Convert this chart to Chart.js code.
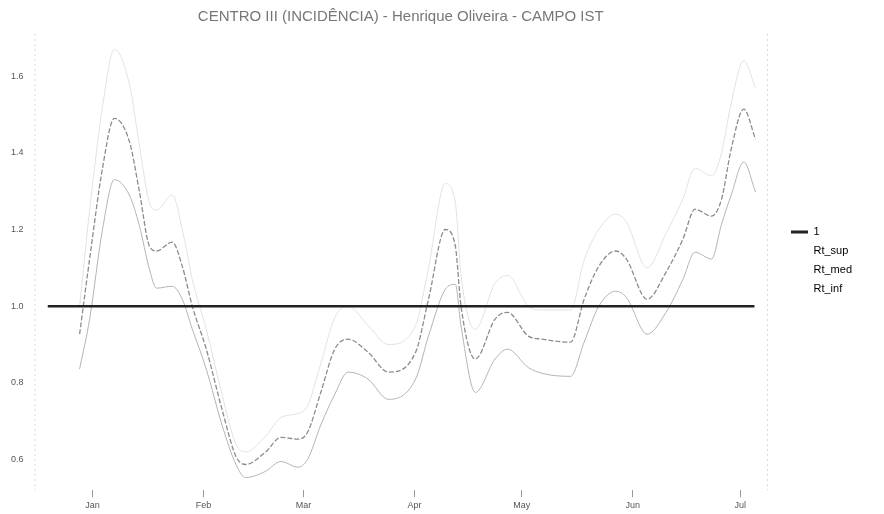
<!DOCTYPE html>
<html>
<head>
<meta charset="utf-8">
<script src="https://cdn.jsdelivr.net/npm/chart.js@4/dist/chart.umd.min.js"></script>
<style>
  html, body { margin: 0; padding: 0; background: #fff; }
  #wrap { width: 884px; height: 514px; }
</style>
</head>
<body>
<div id="wrap"><canvas id="rtChart"></canvas></div>
<script>
const titleText = "CENTRO III (INCIDÊNCIA) - Henrique Oliveira - CAMPO IST";
const monthLabels = ["Jan", "Feb", "Mar", "Apr", "May", "Jun", "Jul"];
const monthDays = [0, 31, 59, 90, 120, 151, 181];
const yTicks = [0.6, 0.8, 1.0, 1.2, 1.4, 1.6];

// day 0 = 1 Jan
const days = [-3.6, -0.8, 2.8, 6.1, 10.3, 13.1, 15.9, 17.9, 22.3, 25.1,
  27.9, 31.8, 36.2, 40.1, 42.8, 48.3, 52.7, 57.4, 60.1, 63.8,
  67.7, 71.4, 77, 82.7, 90.3, 93.9, 98.6, 101.4, 103, 107,
  112.5, 116, 121.8, 125.6, 133.6, 137.4, 141.5, 146.2, 149.2, 155,
  160.3, 165, 168.4, 173, 175.8, 178.5, 182, 185.3];
const rtSup = [1.0, 1.25, 1.52, 1.67, 1.58, 1.42, 1.27, 1.25, 1.29, 1.2,
  1.07, 0.94, 0.77, 0.64, 0.62, 0.66, 0.71, 0.72, 0.74, 0.85,
  0.97, 1.0, 0.95, 0.9, 0.95, 1.1, 1.32, 1.27, 1.08, 0.94,
  1.06, 1.08, 1.0, 0.99, 0.99, 1.12, 1.2, 1.24, 1.22, 1.1,
  1.19, 1.28, 1.36, 1.34, 1.4, 1.53, 1.64, 1.57];
const rtMed = [0.927, 1.123, 1.36, 1.49, 1.43, 1.30, 1.157, 1.144, 1.167, 1.104,
  1.0, 0.888, 0.731, 0.608, 0.587, 0.619, 0.658, 0.653, 0.671, 0.775,
  0.888, 0.914, 0.88, 0.828, 0.88, 1.018, 1.20, 1.157, 1.0, 0.862,
  0.966, 0.984, 0.922, 0.914, 0.906, 1.018, 1.104, 1.144, 1.123, 1.018,
  1.089, 1.175, 1.253, 1.235, 1.279, 1.41, 1.514, 1.436];
const rtInf = [0.836, 0.966, 1.20, 1.33, 1.29, 1.21, 1.097, 1.047, 1.052, 1.018,
  0.94, 0.836, 0.69, 0.587, 0.553, 0.569, 0.595, 0.58, 0.60, 0.69,
  0.77, 0.828, 0.81, 0.757, 0.81, 0.922, 1.044, 1.057, 0.948, 0.775,
  0.862, 0.888, 0.84, 0.825, 0.817, 0.906, 1.0, 1.039, 1.023, 0.927,
  0.984, 1.07, 1.141, 1.123, 1.214, 1.29, 1.376, 1.298];
const refDays = [-12.5, 185];
const refValues = [1, 1];

function toPoints(xs, ys) {
    return xs.map((x, i) => ({ x: x, y: ys[i] }));
}

// faint frame on both sides of the plot, legend nudged away from it
const framePlugin = {
    id: "frame",
    afterLayout(chart) {
        chart.legend.left += 16;
        chart.legend.right += 16;
    },
    beforeDatasetsDraw(chart) {
        const { ctx, chartArea } = chart;
        ctx.save();
        ctx.strokeStyle = "#dcdcdc";
        ctx.lineWidth = 1;
        ctx.setLineDash([2, 3]);
        ctx.beginPath();
        ctx.moveTo(chartArea.left + 0.5, chartArea.top);
        ctx.lineTo(chartArea.left + 0.5, chartArea.bottom);
        ctx.moveTo(chartArea.right + 0.5, chartArea.top);
        ctx.lineTo(chartArea.right + 0.5, chartArea.bottom);
        ctx.stroke();
        ctx.restore();
    }
};

Chart.defaults.font.family = "'Liberation Sans', Arial, sans-serif";

new Chart(document.getElementById("rtChart"), {
    type: "line",
    data: {
        datasets: [
            { label: "1", data: toPoints(refDays, refValues), borderColor: "#222", borderWidth: 2.5, pointRadius: 0 },
            { label: "Rt_sup", data: toPoints(days, rtSup), borderColor: "#e2e2e2", borderWidth: 1, pointRadius: 0, cubicInterpolationMode: "monotone" },
            { label: "Rt_med", data: toPoints(days, rtMed), borderColor: "#8c8c8c", borderWidth: 1.3, borderDash: [5, 2], pointRadius: 0, cubicInterpolationMode: "monotone" },
            { label: "Rt_inf", data: toPoints(days, rtInf), borderColor: "#b4b4b4", borderWidth: 1, pointRadius: 0, cubicInterpolationMode: "monotone" }
        ]
    },
    options: {
        responsive: true,
        maintainAspectRatio: false,
        animation: false,
        layout: { padding: { top: 7, right: 38, left: 8, bottom: 0 } },
        plugins: {
            title: {
                display: true,
                fullSize: false,
                text: titleText,
                color: "#777",
                font: { size: 15, weight: "normal" },
                padding: { top: 1, bottom: 8 }
            },
            tooltip: { enabled: false },
            legend: {
                position: "right",
                labels: {
                    color: "#222",
                    font: { size: 11 },
                    boxWidth: 17,
                    boxHeight: 3,
                    padding: 8,
                    generateLabels(chart) {
                        return chart.data.datasets.map((ds, i) => ({
                            text: ds.label,
                            fillStyle: i === 0 ? "#222" : "rgba(0,0,0,0)",
                            strokeStyle: "rgba(0,0,0,0)",
                            lineWidth: 0,
                            datasetIndex: i
                        }));
                    }
                }
            }
        },
        scales: {
            x: {
                type: "linear",
                min: -16.2,
                max: 188.5,
                afterBuildTicks(axis) {
                    axis.ticks = monthDays.map(d => ({ value: d }));
                },
                ticks: {
                    color: "#555",
                    font: { size: 9 },
                    autoSkip: false,
                    maxRotation: 0,
                    callback: (v) => monthLabels[monthDays.indexOf(v)]
                },
                grid: { drawOnChartArea: false, drawTicks: true, tickLength: 7, color: "#999" },
                border: { display: false }
            },
            y: {
                min: 0.52,
                max: 1.71,
                afterBuildTicks(axis) {
                    axis.ticks = yTicks.map(v => ({ value: v }));
                },
                ticks: {
                    color: "#555",
                    font: { size: 9 },
                    padding: 3,
                    callback: (v) => v.toFixed(1)
                },
                grid: { display: false },
                border: { display: false }
            }
        }
    },
    plugins: [framePlugin]
});
</script>
</body>
</html>
